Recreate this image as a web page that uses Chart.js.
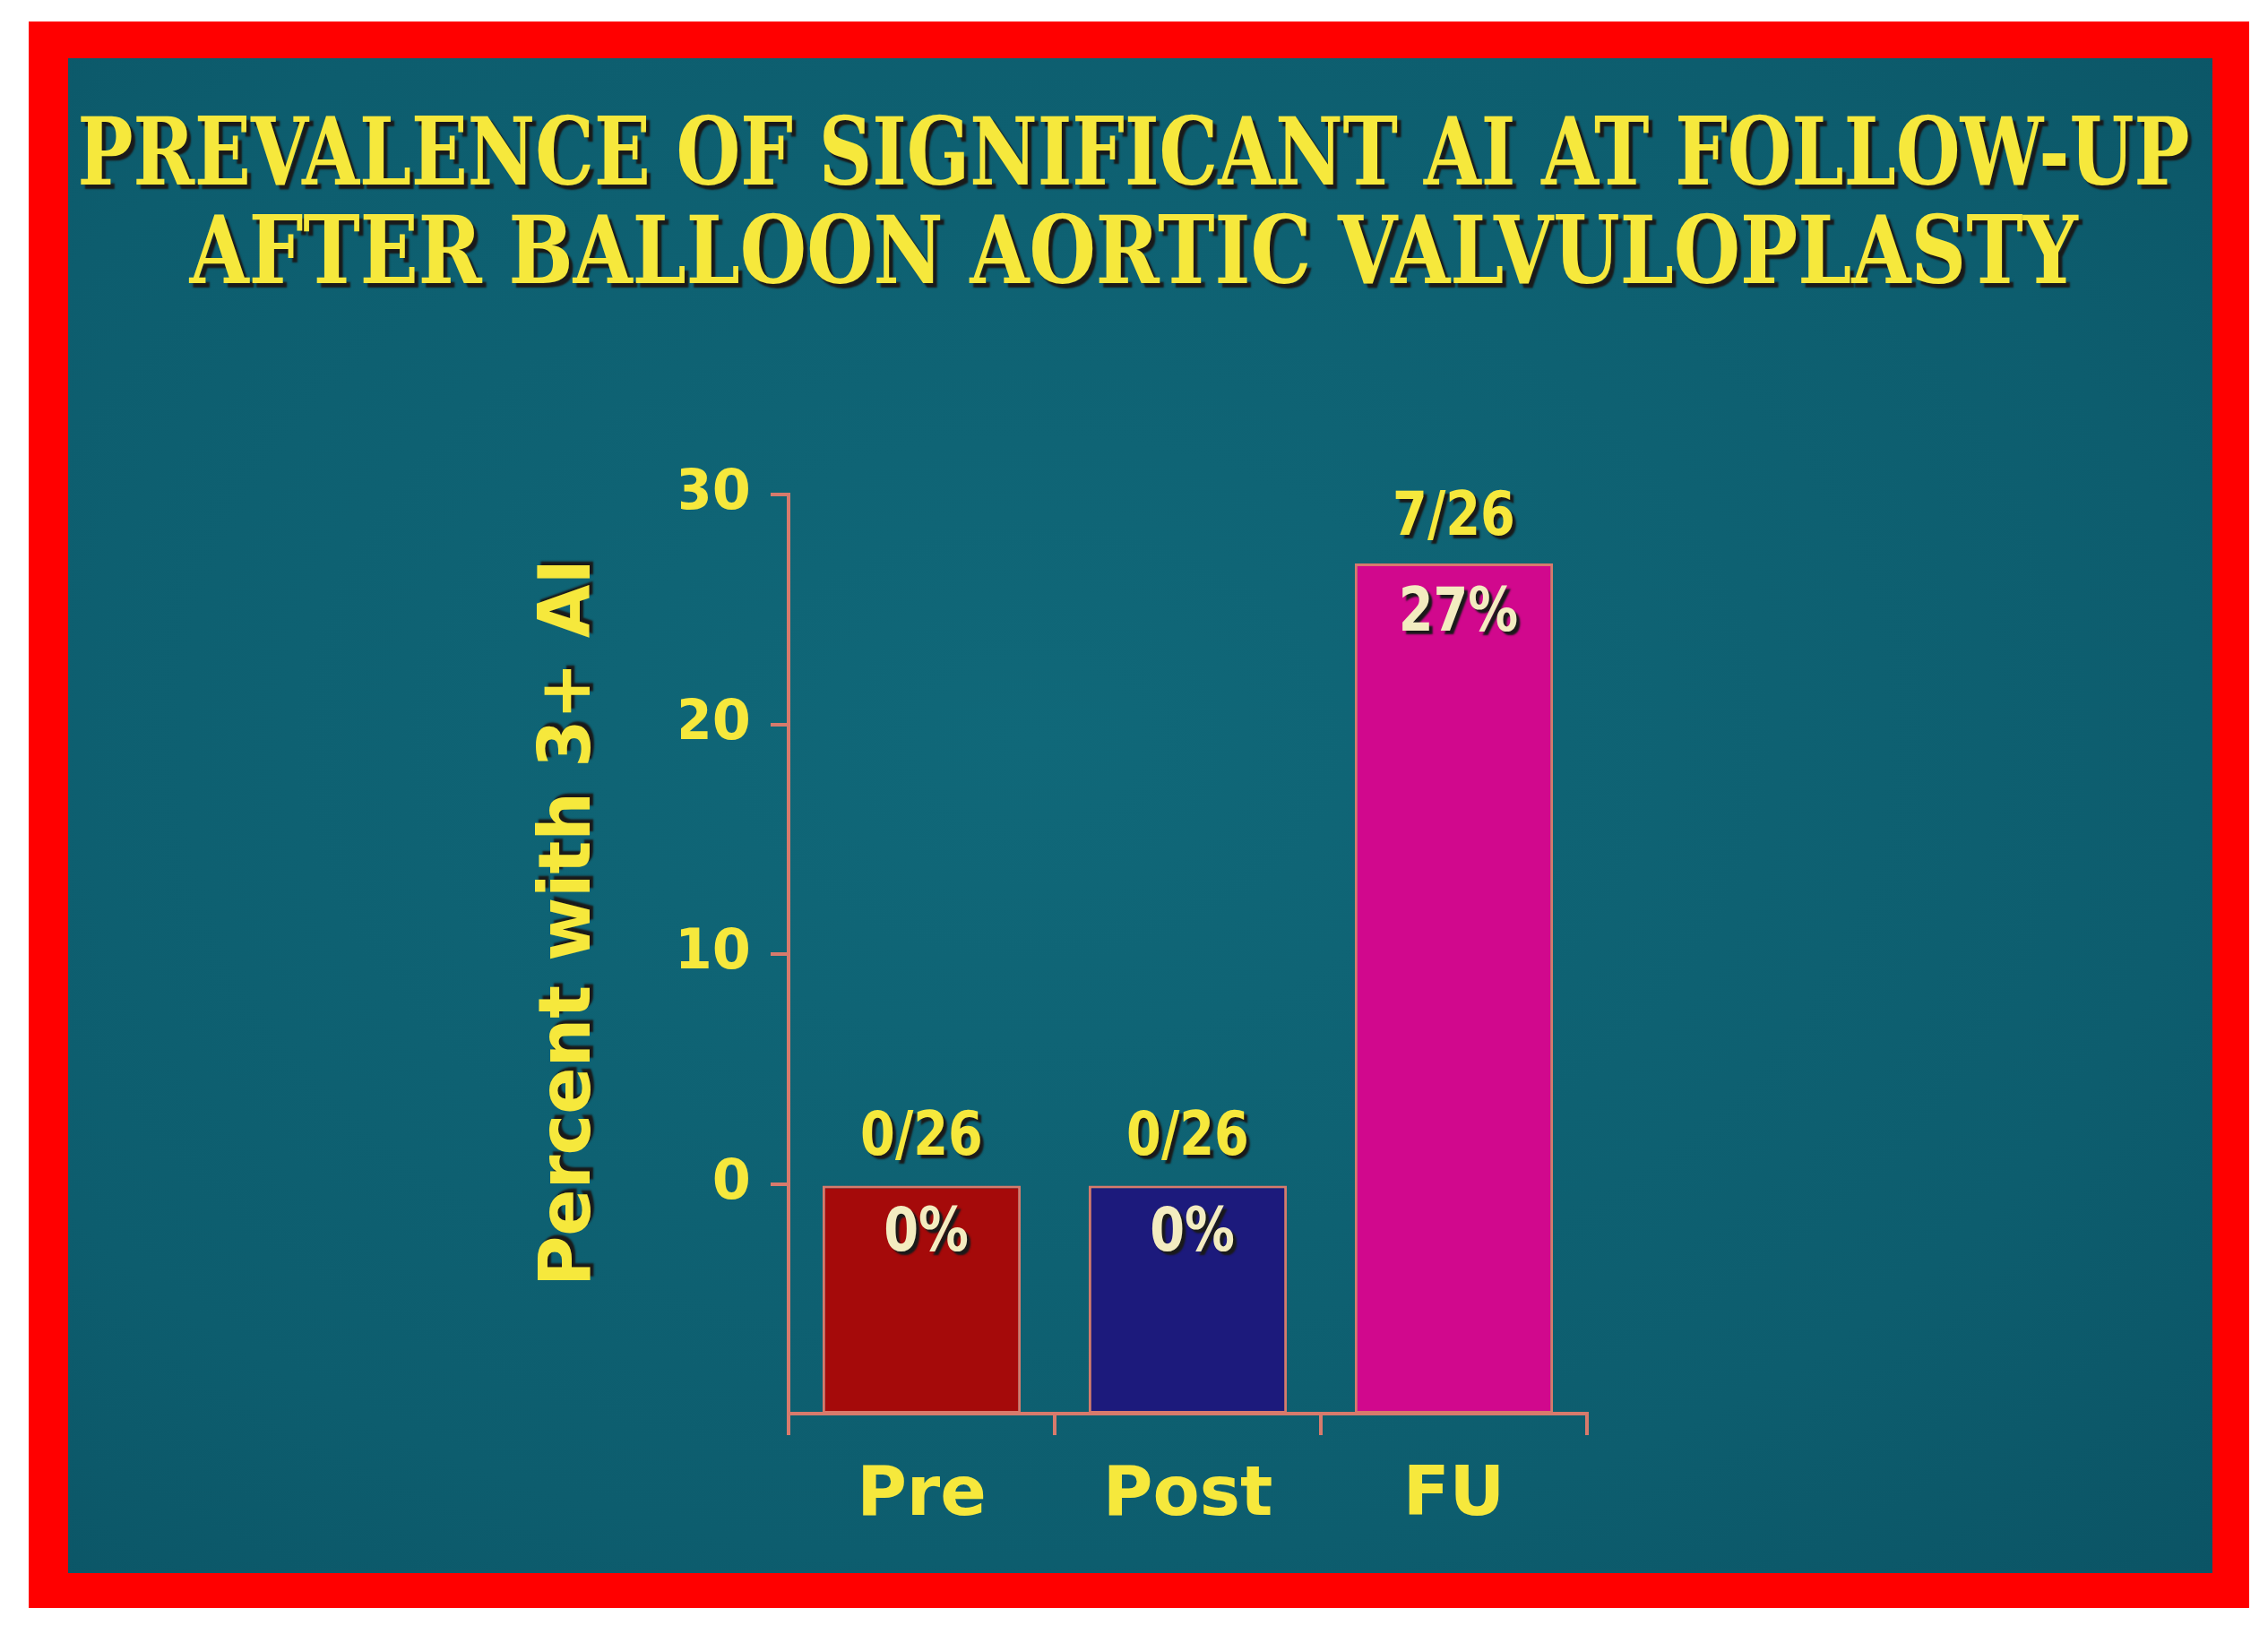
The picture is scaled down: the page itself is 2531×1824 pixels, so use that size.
<!DOCTYPE html>
<html><head><meta charset="utf-8">
<script src="https://cdn.jsdelivr.net/npm/chart.js@4"></script>
<style>
html,body{margin:0;padding:0;background:#fff;}
#wrap{position:relative;width:2531px;height:1824px;overflow:hidden;background:#fff;}
#frame{position:absolute;left:32px;top:24px;width:2478px;height:1771px;background:#f00;}
#panel{position:absolute;left:76px;top:65px;width:2393px;height:1691px;background:radial-gradient(ellipse at 45% 45%,#106879 0%,#0d5d6e 70%,#0b5465 100%);}
.tl{position:absolute;left:1265px;white-space:nowrap;color:#f6e83c;font-family:"DejaVu Serif",serif;font-stretch:condensed;font-weight:bold;font-size:104px;text-shadow:5px 5px 2px #1a1a1a;transform-origin:center;}
#ytitle{position:absolute;left:630px;top:1030px;transform:translate(-50%,-50%) rotate(-90deg) scaleX(1.07);color:#f6e83c;font-family:"DejaVu Sans",sans-serif;font-stretch:condensed;font-weight:bold;font-size:80px;white-space:nowrap;text-shadow:4px 4px 2px #1a1a1a;}
canvas{position:absolute;left:0;top:0;}
</style></head><body>
<div id="wrap"><div id="frame"></div><div id="panel"></div>
<div class="tl" id="t1" style="top:108px">PREVALENCE OF SIGNIFICANT AI AT FOLLOW-UP</div>
<div class="tl" id="t2" style="top:218px">AFTER BALLOON AORTIC VALVULOPLASTY</div>
<div id="ytitle">Percent with 3+ AI</div>
<canvas id="c" width="2531" height="1824"></canvas></div>
<script>
const categories=["Pre","Post","FU"];
const values=[0,0,27];
const fractions=["0/26","0/26","7/26"];
const percents=["0%","0%","27%"];
const yTicks=[0,10,20,30];
const barColors=["#a50a0a","#1c1a7c","#d1088d"];
const axisColor="#d77a6c";
const yellow="#f6e83c";
const FONT='"DejaVu Sans",sans-serif';
const yMin=-10;

[["t1",2357],["t2",2107]].forEach(([id,w])=>{const e=document.getElementById(id);const s=w/e.offsetWidth;e.style.transform=`translateX(-50%) scaleX(${s})`;});

function condText(ctx,txt,x,y,sx){ctx.save();ctx.translate(x,y);ctx.scale(sx,1);ctx.fillText(txt,0,0);ctx.restore();}
const labelPlugin={id:'lbl',afterDatasetsDraw(chart){
  const ctx=chart.ctx;const meta=chart.getDatasetMeta(0);const ys=chart.scales.y;
  ctx.save();ctx.textAlign='center';ctx.textBaseline='middle';
  ctx.font='bold 68px '+FONT;
  ctx.shadowColor='#1a1a1a';ctx.shadowOffsetX=4;ctx.shadowOffsetY=4;ctx.shadowBlur=2;
  meta.data.forEach((b,i)=>{
    const top=ys.getPixelForValue(values[i]);
    ctx.fillStyle=yellow;condText(ctx,fractions[i],b.x,top-50,0.82);
    ctx.fillStyle='#f3ecc0';condText(ctx,percents[i],b.x+5,top+57,0.82);
  });
  ctx.restore();
}};

new Chart(document.getElementById('c'),{
  type:'bar',
  data:{labels:categories,datasets:[{data:values.map(v=>[yMin,v]),backgroundColor:barColors,borderColor:axisColor,borderWidth:3,borderSkipped:false,barPercentage:0.745,categoryPercentage:1}]},
  options:{responsive:false,animation:false,
    layout:{padding:{left:760,right:760,top:552,bottom:46}},
    plugins:{legend:{display:false},tooltip:{enabled:false}},
    scales:{
      y:{min:yMin,max:30,afterFit(s){s.width=120;},
        afterBuildTicks(s){s.ticks=yTicks.map(v=>({value:v}));},
        border:{color:axisColor,width:4},
        grid:{drawOnChartArea:false,color:axisColor,lineWidth:4,tickLength:20},
        ticks:{color:yellow,font:{family:FONT,size:62,weight:'bold'},padding:22}},
      x:{offset:true,afterFit(s){s.height=200;},
        border:{color:axisColor,width:4},
        grid:{offset:true,drawOnChartArea:false,color:axisColor,lineWidth:4,tickLength:24},
        ticks:{color:yellow,font:{family:FONT,size:76,weight:'bold'},padding:24}}
    }},
  plugins:[labelPlugin]
});
</script></body></html>
